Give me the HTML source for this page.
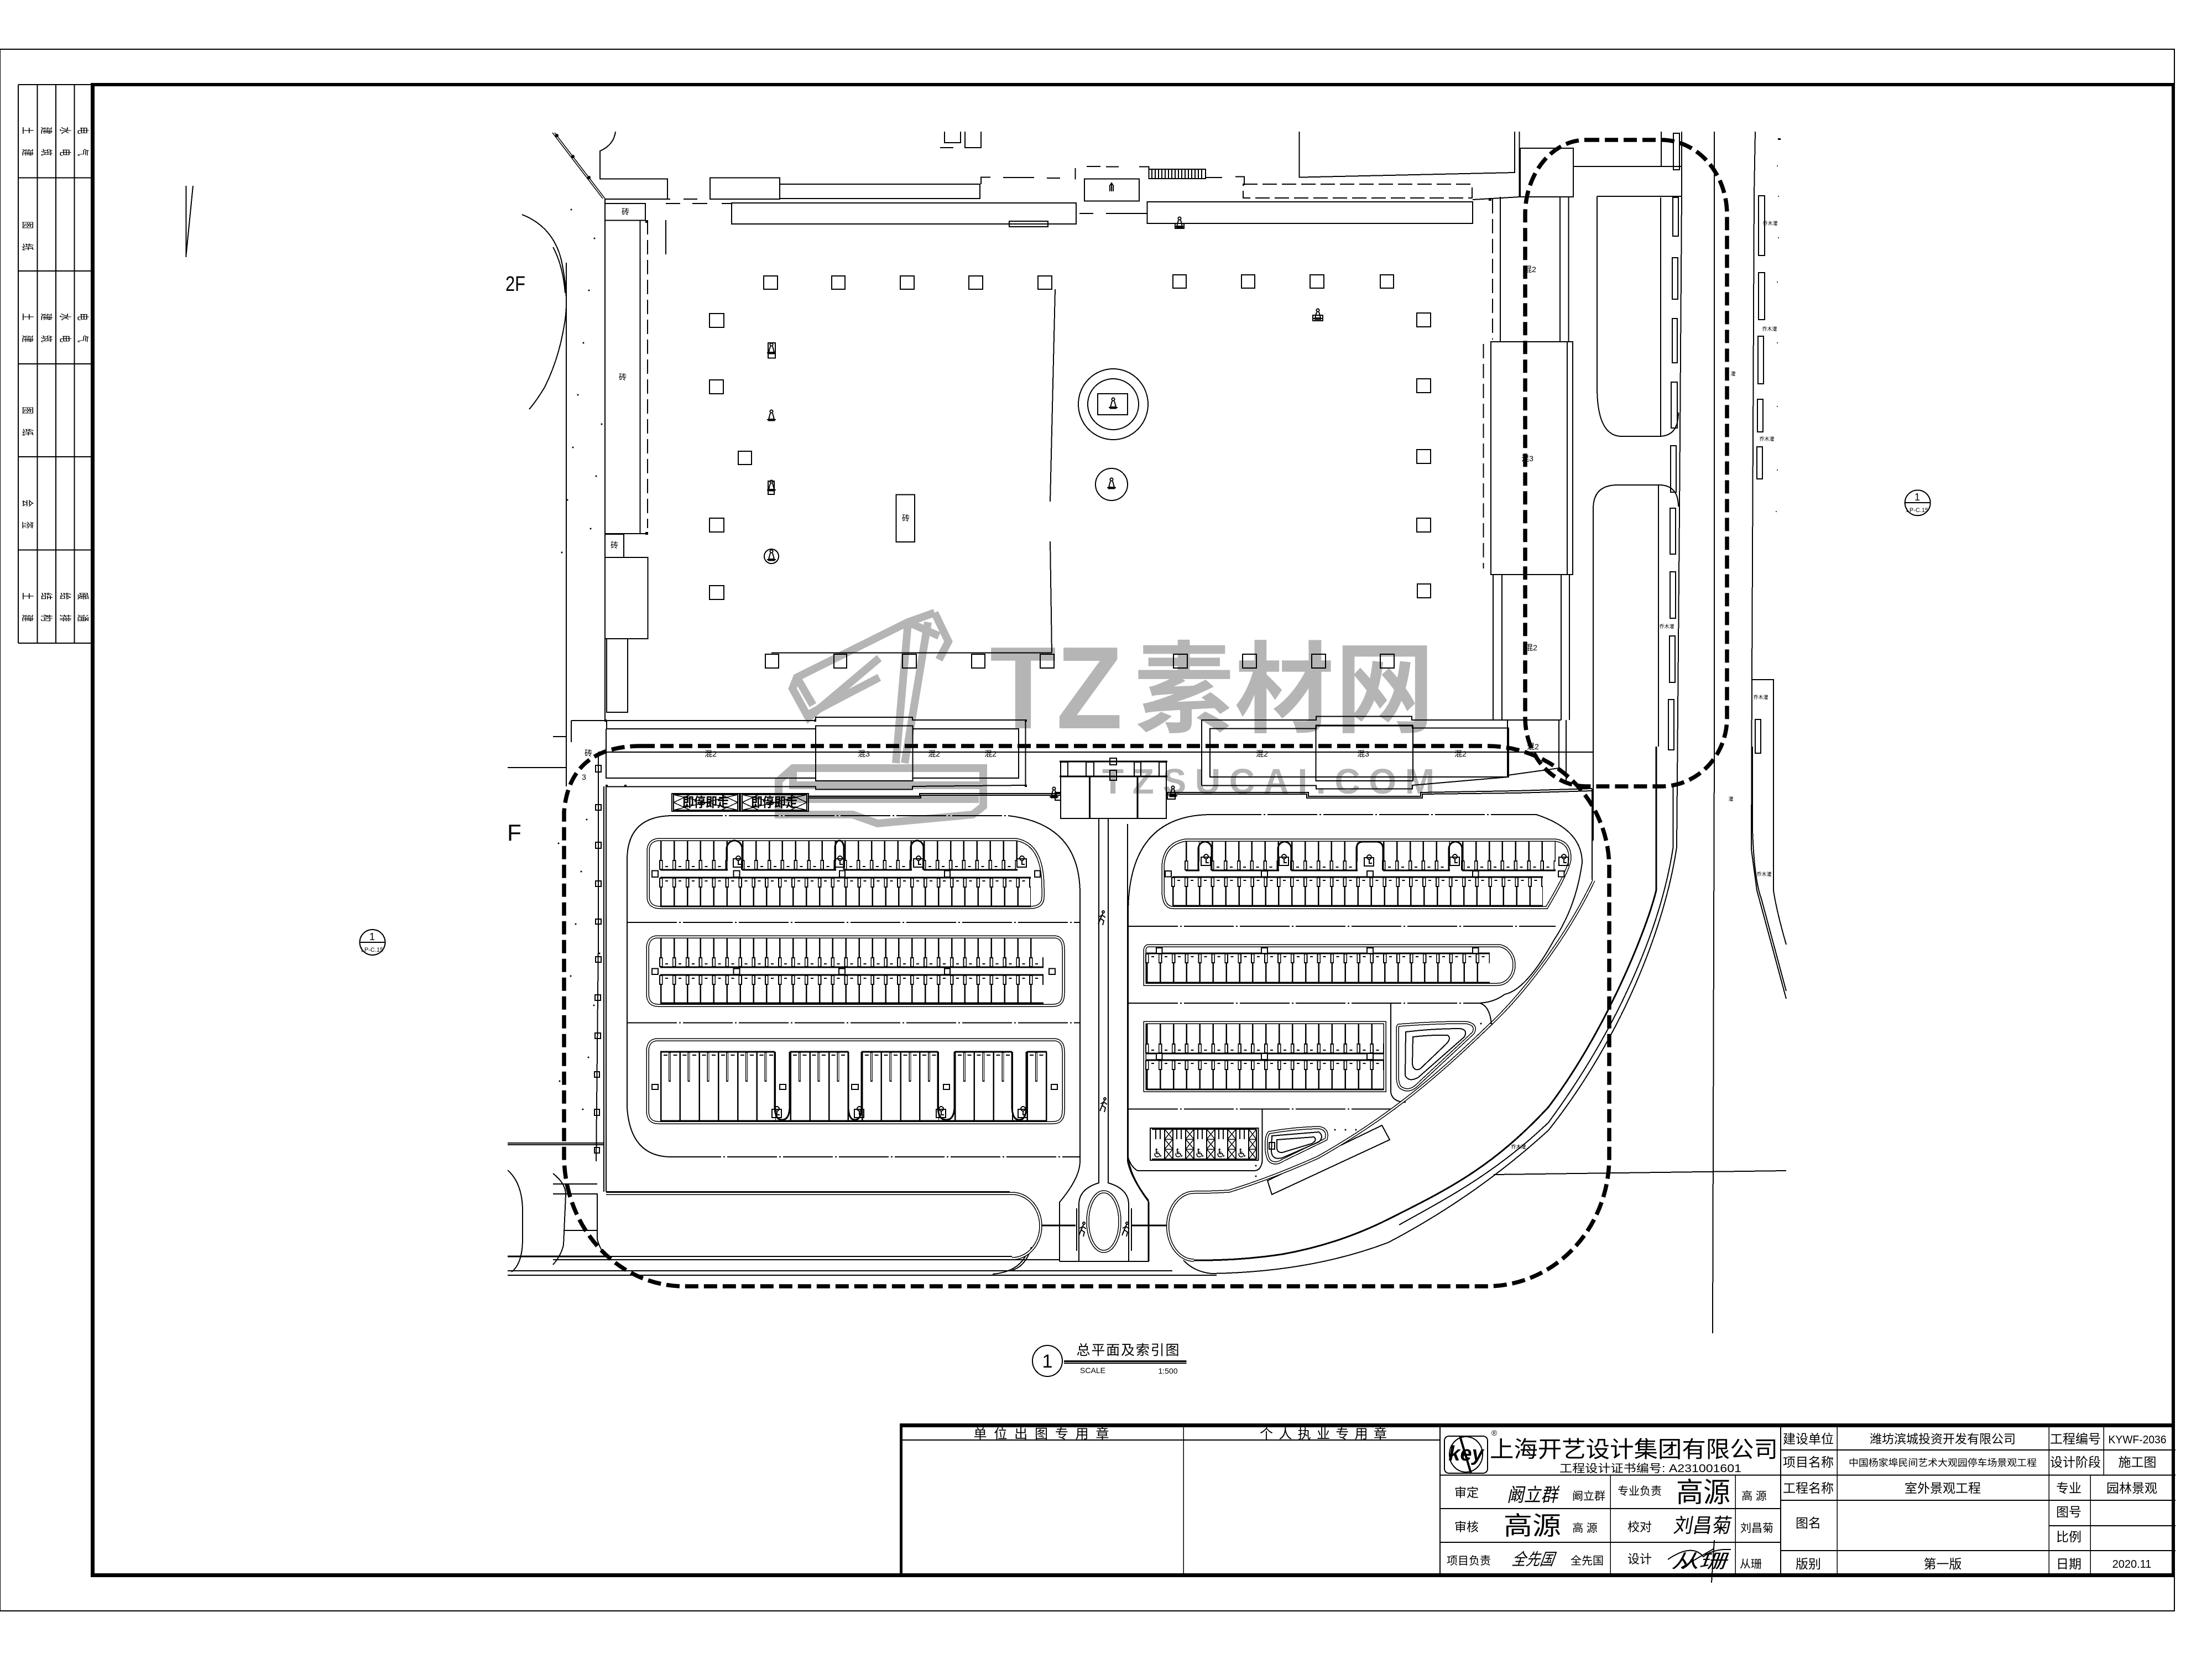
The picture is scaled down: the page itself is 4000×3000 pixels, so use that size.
<!DOCTYPE html>
<html><head><meta charset="utf-8"><style>
html,body{margin:0;padding:0;background:#fff}
svg{display:block}
.g{fill:none;stroke:#000;stroke-width:2;shape-rendering:crispEdges}
.th{stroke-width:3}.thin{stroke-width:1.5}
.dd{stroke-dasharray:90 4 3 4}
.ds{stroke-dasharray:26 14}
.d{stroke-width:35;stroke-dasharray:2.5 21.4}
.s{stroke-width:18;stroke-dasharray:6.5 17.4}
.w{stroke-width:14;stroke:#fff;stroke-dasharray:3 20.9}
.m{stroke-width:2;stroke-dasharray:5 18.9}
.t{font-family:"Liberation Sans","Noto Sans CJK SC",sans-serif;fill:#000;stroke:none;text-anchor:middle}
.l{font-size:14px}
.b{font-size:23px}
.r{font-size:22px}
.f{fill:#000;stroke:none}
</style></head><body>
<svg xmlns="http://www.w3.org/2000/svg" width="4000" height="3000" viewBox="0 0 4000 3000">
<defs>
<g id="fig"><circle cx="0" cy="-9" r="2.5"/><path d="M-2,-6 L-5,5 H5 L2,-6 M-8,6 H8"/><path d="M-6,7H6" stroke-width="3"/></g>
<g id="run"><circle cx="3" cy="-12" r="2"/><path d="M2,-9 L-2,0 L4,4 L2,12 M-2,0 L-6,10 M1,-6 L7,-2 M1,-6 L-5,-3"/></g>
<g id="c"><rect x="0" y="0" width="17" height="15"/><circle cx="9" cy="-1" r="4"/><path d="M9,3V10H14"/></g>
<g id="dbl">
<path d="M1194,1518H1836Q1886,1525 1886,1605V1622Q1886,1641 1862,1641H1194Q1172,1641 1172,1620V1540Q1172,1518 1194,1518Z"/>
<path d="M1190,1694H1905Q1923,1694 1923,1716V1796Q1923,1818 1905,1818H1190Q1171,1818 1171,1796V1716Q1171,1694 1190,1694Z"/>
<path d="M1190,1880H1905Q1923,1880 1923,1902V2008Q1923,2030 1905,2030H1190Q1171,2030 1171,2008V1902Q1171,1880 1190,1880Z"/>
<path d="M2145,1519H2811Q2839,1522 2839,1552Q2839,1570 2797,1641H2121Q2103,1641 2103,1609V1567Q2105,1525 2145,1519Z"/>
<path d="M2078,1710H2708A30,35 0 0 1 2708,1780H2070V1720Q2070,1710 2078,1710Z"/>
<rect x="2070" y="1849" width="434" height="123"/>
<path d="M1096,2158H1830A52,59 0 0 1 1830,2276"/>
<path d="M2882,1592C2840,1680 2770,1780 2701,1847C2620,1925 2530,2010 2383,2093Q2300,2130 2223,2154Q2190,2156 2159,2156A47,61 0 0 0 2159,2279"/>
<path d="M2529,1854Q2590,1849 2650,1849Q2672,1852 2664,1868L2565,1960Q2548,1978 2532,1966Q2527,1960 2527,1945V1865Q2527,1855 2529,1854Z"/>
<path d="M2295,2048Q2340,2040 2385,2039Q2403,2042 2398,2060L2320,2098Q2305,2108 2295,2098Q2288,2085 2290,2062Q2291,2052 2295,2048Z"/>
<ellipse cx="1996" cy="2209" rx="29" ry="54"/>
</g>
</defs>

<!-- watermark -->
<g fill="none" stroke="#b5b5b5" stroke-width="14" stroke-linejoin="miter">
<path d="M1690,1108L1642,1125L1441,1225L1433,1245L1462,1298L1590,1190"/>
<path d="M1690,1108L1715,1160L1698,1193"/>
<path d="M1642,1125L1620,1380M1678,1125L1636,1380M1642,1125L1698,1150"/>
<path d="M1460,1293L1590,1225M1441,1225L1470,1275"/>
<path d="M1408,1412V1473H1542L1587,1489L1759,1473L1778,1458V1389H1434L1408,1412Z"/>
<path d="M1434,1389V1420H1778M1410,1445H1770"/>
</g>
<text x="1790" y="1317" font-family="Liberation Sans,sans-serif" font-weight="bold" font-size="212" fill="#b5b5b5" textLength="240" lengthAdjust="spacingAndGlyphs">TZ</text>
<text x="2051" y="1310" font-family="Noto Sans CJK SC,sans-serif" font-weight="bold" font-size="180" fill="#b5b5b5" textLength="543" lengthAdjust="spacing">素材网</text>
<text x="1993" y="1435" font-family="Liberation Sans,sans-serif" font-weight="bold" font-size="64" fill="#b5b5b5" textLength="601" lengthAdjust="spacing">TZSUCAI.COM</text>

<g class="g">
<!-- outer frame -->
<path d="M0,89H3932V2913H0Z"/>
<!-- left table -->
<path d="M33,153H164M33,321.5H164M33,490H164M33,658H164M33,826H164M33,994.5H164M33,1163H164M33,153V1163M67.500,153V1163M101,153V1163M134.500,153V1163"/>
<!-- north arrow -->
<path d="M336.700,336V465M349,336L336.700,460"/>
<!-- index circles -->
<circle cx="3467.700" cy="909.300" r="23"/><path d="M3444,909H3491"/>
<circle cx="673.500" cy="1704" r="23"/><path d="M650,1704H697"/>

<!-- top area -->
<path class="thin" d="M1003,240L1094,359M999,240L1090,359"/>
<path d="M1113,238Q1110,262 1085,273V323.500H1207V360M1094,360H1212M1236,360H1261M1204,368H1230M1252,368H1279M1305,368H1323"/>
<rect x="1284" y="321.500" width="126" height="38.500"/>
<rect x="1410" y="333" width="362" height="26"/>
<rect x="1323" y="367" width="623" height="38"/>
<rect x="1825" y="400" width="70" height="10"/>
<rect x="1094" y="368" width="73" height="30.600"/>
<path d="M1094,359V1303M1157.500,398.600V965M1094,965H1167"/>
<path d="M1171,398V955" stroke-dasharray="26 10"/>
<path d="M1204,398V460"/>
<path d="M1024,475V1422M944,388Q1000,410 1015,470Q1030,540 1020,590Q1010,650 985,700Q970,725 957,740M1000,447Q1018,480 1022,530"/>
<rect x="1094" y="966" width="34" height="42"/>
<rect x="1094" y="1008" width="77.500" height="147"/>
<rect x="1097" y="1155" width="38" height="133"/>
<path d="M1128,966V1008"/>
<path d="M1774,333V320.500H1791M1814,321H1870M1893,322H1917M1944.500,304V324.600M1965,301H1990M1952,386H1977M1708,238V258H1737V238M1745,238V267H1774V238M1700,267H1724"/>
<rect x="1961" y="323.500" width="99" height="40"/>
<path d="M2010,332V346M2006,337L2010,331L2014,337M2007,346V337M2013,346V337"/>
<path d="M2000,301.500H2023M2060,301.500H2077.500V306"/>
<rect x="2077.500" y="306" width="102.500" height="17"/>
<path d="M2083,306V323M2089,306V323M2095,306V323M2101,306V323M2107,306V323M2113,306V323M2119,306V323M2125,306V323M2131,306V323M2137,306V323M2143,306V323M2149,306V323M2155,306V323M2161,306V323M2167,306V323M2173,306V323"/>
<path d="M2180,321H2210M2234,319.500H2250V335"/>
<rect x="2248" y="333" width="414" height="25" stroke-dasharray="26 9"/>
<rect x="2074.500" y="365" width="588.500" height="39"/>
<path d="M2000,386H2074"/>
<path d="M2349.500,238V320.600L2739,312V238M2747.500,238V356"/>
<rect x="2749" y="268" width="96" height="88"/>
<path d="M2663,361L2749,356H2845"/>
<path d="M2699,360V614" stroke-dasharray="26 10"/>
<path d="M2713,356V618M2821,356V618M2836.600,356V618"/>
<rect x="2696" y="618" width="138" height="421"/>
<path d="M2834,618H2844V1039H2834"/>
<path d="M2682.600,622V1028" stroke-dasharray="26 10"/>
<path d="M2716,1039V1302M2823,1039V1302M2838,1039V1302M2700,1039V1302M2716,1302H2823"/>
<path d="M3004,238V301M2846,301H3041M2888,355H3041"/>
<path d="M2888,355V700Q2888,789 2932.600,789H3000Q3035,789 3035,746"/>
<path d="M2881,1520V920Q2881,877 2925,877H3000Q3035,877 3035,916"/>
<path d="M3003,357V788M2999,877V1350"/>
<path d="M3041,238V355L3037,925L3032,1532C3010,1680 2930,1880 2800,2044C2700,2135 2600,2200 2510,2247Q2370,2300 2191,2303Q2160,2300 2140,2279"/>
<path d="M3025.600,1420V1532C3003,1680 2925,1860 2800,2030C2700,2125 2610,2170 2530,2215"/>
<path class="th" d="M2995,1350V1610C2975,1690 2900,1870 2800,2002C2700,2110 2620,2150 2510,2205Q2420,2250 2319,2268Q2240,2280 2159,2279"/>
<path d="M3100,238V1350L3097,2411M2701,2124L3230,2117"/>
<path d="M3174,238L3172,352L3168,1229L3167,1536L3177,1610L3230,1806M3169,1350V1500Q3172,1590 3185,1625L3230,1792"/>
<path d="M3207,1229V1379M3168,1229H3208"/>
<path d="M3207,1350V1610Q3212,1645 3230,1708"/>
<rect x="3026" y="241" width="11" height="66"/><rect x="3025" y="357" width="10" height="70"/><rect x="3024" y="466" width="10" height="75"/><rect x="3024" y="576" width="9" height="80"/><rect x="3022" y="691" width="11" height="83"/><rect x="3021" y="806" width="10" height="84"/><rect x="3020" y="919" width="10" height="83"/><rect x="3020" y="1034" width="10" height="84"/><rect x="3019" y="1150" width="10" height="84"/><rect x="3017" y="1265" width="10" height="91"/>
<rect x="3180" y="354" width="11" height="108"/><rect x="3180" y="493" width="11" height="85"/><rect x="3179" y="608" width="10" height="86"/><rect x="3178" y="722" width="10" height="59"/><rect x="3177" y="808" width="10" height="58"/><rect x="3174" y="1301" width="10" height="61"/>

<!-- plaza trees -->
<rect x="1381" y="499" width="25" height="24"/><rect x="1504" y="499" width="24" height="24"/><rect x="1628" y="499" width="25" height="24"/><rect x="1752" y="499" width="25" height="24"/><rect x="1877" y="499" width="25" height="24"/>
<rect x="2121" y="497" width="24" height="24"/><rect x="2245" y="497" width="24" height="24"/><rect x="2369" y="497" width="25" height="24"/><rect x="2496" y="497" width="24" height="24"/>
<rect x="2562" y="566" width="25" height="25"/><rect x="2562" y="685" width="25" height="25"/><rect x="2562" y="813" width="25" height="25"/><rect x="2562" y="937" width="25" height="25"/><rect x="2563" y="1056" width="24" height="25"/>
<rect x="1283" y="567" width="26" height="25"/><rect x="1283" y="687" width="25" height="25"/><rect x="1335" y="816" width="24" height="24"/><rect x="1283" y="937" width="26" height="25"/><rect x="1283" y="1059" width="26" height="25"/>
<rect x="1384" y="1183" width="24" height="25"/><rect x="1508" y="1183" width="23" height="25"/><rect x="1632" y="1183" width="25" height="25"/><rect x="1757" y="1183" width="24" height="25"/><rect x="1881" y="1183" width="25" height="25"/><rect x="2122" y="1183" width="25" height="25"/><rect x="2247" y="1183" width="25" height="25"/><rect x="2372" y="1183" width="25" height="25"/><rect x="2496" y="1183" width="25" height="25"/>
<path d="M1908,523L1899,907M1899,979L1902,1180M1395,1180.700H1902"/>
<rect x="1389" y="620" width="13" height="27.500"/><rect x="1389" y="870" width="11" height="24"/><circle cx="1395" cy="1006" r="13"/><rect x="1620.500" y="894.500" width="33.500" height="85.500"/>
<use href="#fig" x="1395" y="632"/><use href="#fig" x="1395" y="753"/><use href="#fig" x="1395" y="880"/><use href="#fig" x="1395" y="1006"/>
<rect x="2374" y="570" width="18" height="10"/><use href="#fig" x="2383" y="570"/>
<rect x="2125" y="404" width="16" height="9"/><use href="#fig" x="2133" y="404"/>
<ellipse cx="2013" cy="731" rx="63" ry="64"/><ellipse cx="2013" cy="731" rx="46" ry="46"/>
<rect x="1985" y="712" width="54" height="38"/><use href="#fig" x="2013" y="731"/>
<circle cx="2010" cy="876" r="29"/><use href="#fig" x="2010" y="876"/>

<!-- lower band -->
<path d="M1033,1303H1475V1297H1650V1302H1854.600V1420"/>
<path d="M1096,1318H1475M1650,1318H1842V1407H1650M1475,1407H1096V1318"/>
<rect x="1475" y="1312.600" width="175.500" height="99.400"/>
<path d="M1096,1422.400H1475V1427.500H1650V1422L1854,1420"/>
<path d="M1082,1360H2881"/>
<path d="M1462,1440H1663V1435H1917M1462,1443H1665V1438H1917M2111,1433H2366V1440H2569V1433L2743,1430L2879,1426M2111,1436H2363V1443H2572V1436L2743,1434L2879,1430"/>
<path d="M1033,1303V1342M1097,1303V1318"/>
<path d="M1082,1360V1700L1078,2100M1092,1422V2155M1096,1422V2155M1096,2155H1826M1024,1422V1332"/>
<path d="M1000,1332H1024M918,1388H1024M918,2067H1092M918,2070H1092M918,2116Q945,2140 945,2190V2240Q945,2285 925,2300M1000,2141H1080M1000,2159H1080M1019,2225H1080M1080,2158V2241Q1085,2260 1096,2271"/>
<path class="th" d="M918,2272H1096"/>
<path d="M1000,2122Q1023,2140 1023,2160L1019,2251Q1015,2270 1000,2287"/>
<path d="M918,2298H2120M918,2306H2200M1096,2272H1830M1000,2278H1916M1916,2281H2077M1830,2297Q1855,2290 1865,2255M1795,2304Q1840,2300 1855,2270"/>
<!-- right band -->
<path d="M2173,1420.700V1302H2380V1295.600H2553V1302H2626L2726,1302"/>
<path d="M2173,1420.700H2380V1426.700H2554V1420L2727,1405"/>
<path d="M2188,1406V1317.600H2380V1311.700H2554V1316.700H2728V1405H2188"/>
<rect x="2379.500" y="1312.600" width="175.500" height="99.400"/>
<path d="M2726,1302V1405.600M2728.600,1401.600L2819,1389V1302M2832,1302V1415"/>
<path d="M2879,1426V1591"/>
<path d="M2600,1302H2699"/>
<!-- pavilion -->
<rect x="1918" y="1404" width="191" height="76"/>
<path class="th" d="M1916,1377H2111M1916,1404H2111M1970.500,1404V1480M2057,1404V1480"/>
<rect x="1918" y="1378" width="13" height="26"/><rect x="1964" y="1378" width="14" height="26"/><rect x="2051" y="1378" width="12" height="26"/><rect x="2096" y="1378" width="13" height="26"/>
<rect x="2007" y="1371" width="12" height="12"/><rect x="2007" y="1393" width="12" height="18"/>
<path d="M1987,1480V2139Q1951,2150 1951,2178V2280M2004,1480V2139Q2041,2150 2041,2178V2280"/>
<rect x="1908" y="1433" width="10" height="14"/><use href="#fig" x="1906" y="1435"/>
<rect x="2111" y="1433" width="14" height="12"/><use href="#fig" x="2121" y="1433"/>
<!-- big outlines -->
<path class="dd" d="M1217,1475H1823"/>
<path d="M1134,1555Q1134,1475 1217,1475M1823,1475Q1953,1490 1953,1616V2100Q1953,2130 1916,2174V2281M1134,1555V2003Q1140,2092 1214,2092"/>
<path class="dd" d="M1214,2092H1953M1134,1668H1953.500M1134,1849.500H1953.500M2040,1675H2813M2040,1814H2670M2040,2005.700H2523"/>
<path d="M2040,1651Q2040,1473 2191,1473"/>
<path class="dd" d="M2191,1473H2778"/>
<path d="M2778,1473Q2861,1500 2861,1560Q2850,1640 2810,1700Q2760,1790 2721,1798Q2700,1814 2670,1814M2676,1814Q2695,1820 2697,1854"/>
<path d="M2040,1651V2093Q2045,2130 2076.500,2170V2282M2282.500,2005.700V2100Q2280,2117 2268,2117H2057Q2045,2110 2040,2093M2515,1814V1975Q2518,1993 2542,1993"/>
<path d="M2292,2135L2300,2160L2513,2061L2499,2035Z"/>
<path d="M1884,2216H1945M2046,2216H2111" stroke-width="3"/>
<path d="M1947,2185V2262M2046,2185V2262"/>
<path d="M2039,1490V2100Q2045,2130 2077.500,2174V2281"/>
<!-- double lines -->
<use href="#dbl" stroke="#000" stroke-width="5.500"/>
<use href="#dbl" stroke="#fff" stroke-width="2.500"/>
<path d="M2555,1875Q2590,1871 2618,1872Q2625,1878 2615,1888L2568,1933Q2556,1938 2554,1924Z"/>
<path d="M2542,1866Q2590,1860 2640,1860Q2655,1862 2648,1875L2565,1948Q2548,1958 2541,1945Z"/>
<path d="M2309,2061L2376,2056Q2383,2062 2372,2068L2319,2084Q2309,2085 2309,2075Z"/>
<path d="M2300,2054L2385,2047Q2395,2055 2385,2065L2318,2094Q2300,2098 2299,2082Z"/>
<rect x="2295" y="2066" width="10" height="12"/>

<!-- stall dividers -->
<path class="d" d="M1194,1537.500H1316M1342,1537.500H1512M1527,1537.500H1649M1670,1537.500H1840M1194,1713.500H1887M2144,1538.500H2169M2191,1538.500H2313M2335,1538.500H2455M2501,1538.500H2622M2644,1538.500H2813M2073,1869.500H2502M1194,1622.500H1864M1194,1798.500H1887M2120,1621.500H2790M2073,1759.500H2694M2073,1952.500H2502"/>
<path class="s" d="M1192,1564H1316M1340,1564H1512M1525,1564H1649M1668,1564H1840M1192,1740H1887M2142,1565H2169M2189,1565H2313M2333,1565H2455M2499,1565H2622M2642,1565H2813M2071,1896H2502M1192,1596H1864M1192,1772H1887M2118,1595H2790M2071,1733H2694M2071,1926H2502"/>
<path class="w" d="M1193.800,1564H1316M1341.800,1564H1512M1526.800,1564H1649M1669.800,1564H1840M1193.800,1740H1887M2143.800,1565H2169M2190.800,1565H2313M2334.800,1565H2455M2500.800,1565H2622M2643.800,1565H2813M2072.800,1896H2502M1193.800,1596H1864M1193.800,1772H1887M2119.800,1595H2790M2072.800,1733H2694M2072.800,1926H2502"/>
<path class="m" d="M1203,1567H1314M1351,1567H1510M1536,1567H1647M1679,1567H1838M1203,1743H1885M2200,1568H2311M2344,1568H2453M2510,1568H2620M2653,1568H2811M2082,1899H2500M1203,1593H1862M1203,1769H1885M2129,1592H2788M2082,1730H2692M2082,1923H2500"/>
<path class="th" d="M1194,1573H1316M1342,1573H1512M1527,1573H1649M1670,1573H1840M1194,1587H1864M1194,1749H1887M1194,1763H1887M2144,1574H2169M2191,1574H2313M2335,1574H2455M2501,1574H2622M2644,1574H2813M2120,1586H2790M2073,1724H2694M2073,1905H2502M2073,1917H2502M1194,1639H1864M1194,1814H1887M2120,1638H2790M2073,1777H2694M2073,1970H2502"/>
<!-- notches -->
<path class="th" d="M1314,1573V1535A14,15 0 0 1 1342,1535V1573M1510,1573V1533A8,13 0 0 1 1526,1533V1573M1647,1573V1533A11.500,13 0 0 1 1670,1533V1573M2167,1574V1535A12,13 0 0 1 2191,1535V1574M2311,1574V1535A12,13 0 0 1 2335,1535V1574M2453,1574V1535Q2453,1522 2465,1522H2488Q2501,1522 2501,1535V1574M2620,1574V1535A12,13 0 0 1 2644,1535V1574"/>
<!-- L3 stalls -->
<path stroke-width="125" stroke-dasharray="2.500 32.200" d="M1194,1964.500H1403M1428.600,1964.500H1536M1558,1964.500H1698M1726,1964.500H1832M1856.500,1964.500H1895"/>
<path stroke-width="54" stroke-dasharray="4 30.700" d="M1209,1929H1401M1444,1929H1534M1574,1929H1696M1742,1929H1830M1872,1929H1893"/>
<path stroke-width="50" stroke="#fff" stroke-dasharray="1.500 33.200" d="M1210.500,1929H1401M1445.500,1929H1534M1575.500,1929H1696M1743.500,1929H1830M1873.500,1929H1893"/>
<path stroke-dasharray="7 10.350" d="M1200,1908H1400M1434,1908H1533M1564,1908H1695M1732,1908H1829M1862,1908H1892"/>
<path class="th" d="M1194,1902H1401M1428.600,1902H1534.400M1558,1902H1696.400M1726,1902H1830M1856.500,1902H1893M1194,2027H1893"/>
<path class="th" d="M1401,1902V2000Q1401,2025 1414,2025Q1428,2025 1428,2000V1902M1534,1902V2000Q1534,2025 1546,2025Q1558,2025 1558,2000V1902M1696,1902V2000Q1696,2025 1711,2025Q1726,2025 1726,2000V1902M1830,1902V2000Q1830,2025 1843,2025Q1856,2025 1856,2000V1902"/>
<!-- squares -->
<g fill="#fff">
<rect x="1179" y="1574.500" width="11" height="11.500"/><rect x="1326.500" y="1574.500" width="11" height="11.500"/><rect x="1518" y="1574.500" width="10" height="11.500"/><rect x="1708" y="1574.500" width="10" height="11.500"/><rect x="1871" y="1574.500" width="10" height="11.500"/>
<rect x="1179" y="1751.500" width="11" height="10.500"/><rect x="1326.500" y="1751.500" width="11" height="10.500"/><rect x="1517" y="1751.500" width="11" height="10.500"/><rect x="1708" y="1751.500" width="10" height="10.500"/><rect x="1897" y="1751.500" width="11" height="10.500"/>
<rect x="1179" y="1961" width="11" height="9"/><rect x="1410" y="1961" width="11" height="9"/><rect x="1540" y="1961" width="12" height="9"/><rect x="1706" y="1961" width="11" height="9"/><rect x="1901" y="1961" width="11" height="9"/>
<rect x="2107" y="1575" width="11" height="10.500"/><rect x="2281" y="1575" width="11" height="10.500"/><rect x="2472" y="1575" width="11" height="10.500"/><rect x="2663" y="1575" width="10.500" height="10.500"/><rect x="2818" y="1575" width="10.500" height="10.500"/>
<rect x="2091" y="1714" width="10.500" height="10"/><rect x="2281" y="1714" width="11" height="10"/><rect x="2472" y="1714" width="11" height="10"/><rect x="2663" y="1714" width="10.500" height="10"/>
<rect x="2091" y="1905" width="10.500" height="11"/><rect x="2281" y="1905" width="11" height="11"/><rect x="2472" y="1905" width="11" height="11"/>
</g>
<!-- lamps -->
<use href="#c" x="1326" y="1553"/><use href="#c" x="1510" y="1553"/><use href="#c" x="1652" y="1553"/><use href="#c" x="1839" y="1553"/>
<use href="#c" x="1396" y="2006"/><use href="#c" x="1545" y="2006"/><use href="#c" x="1693" y="2006"/><use href="#c" x="1841" y="2006"/>
<use href="#c" x="2172" y="1550"/><use href="#c" x="2313" y="1550"/><use href="#c" x="2467" y="1551"/><use href="#c" x="2622" y="1550"/><use href="#c" x="2819" y="1550"/>
<!-- flower boxes -->
<rect x="1215" y="1435" width="122" height="32"/><rect x="1339" y="1435" width="123" height="32"/>
<rect x="1218" y="1437" width="116" height="28"/><rect x="1342" y="1437" width="117" height="28"/>
<path class="thin" d="M1218,1437L1334,1465M1334,1437L1218,1465M1342,1437L1459,1465M1459,1437L1342,1465M1248,1437L1218,1451M1304,1437L1334,1451M1248,1465L1218,1451M1304,1465L1334,1451M1372,1437L1342,1451M1429,1437L1459,1451M1372,1465L1342,1451M1429,1465L1459,1451"/>
<!-- disabled parking -->
<rect x="2080" y="2040" width="195.500" height="58"/>
<path d="M2106,2042V2096M2121,2042V2096M2144,2042V2096M2159,2042V2096M2182,2042V2096M2197,2042V2096M2220,2042V2096M2235,2042V2096M2258,2042V2096M2272,2042V2096M2083,2042H2272M2083,2096H2272"/>
<path class="thin" d="M2106,2042L2121,2060L2106,2078L2121,2096M2121,2042L2106,2060L2121,2078L2106,2096M2106,2060H2121M2106,2078H2121M2144,2042L2159,2060L2144,2078L2159,2096M2159,2042L2144,2060L2159,2078L2144,2096M2144,2060H2159M2144,2078H2159M2182,2042L2197,2060L2182,2078L2197,2096M2197,2042L2182,2060L2197,2078L2182,2096M2182,2060H2197M2182,2078H2197M2220,2042L2235,2060L2220,2078L2235,2096M2235,2042L2220,2060L2235,2078L2220,2096M2220,2060H2235M2220,2078H2235M2258,2042L2272,2060L2258,2078L2272,2096M2272,2042L2258,2060L2272,2078L2258,2096M2258,2060H2272M2258,2078H2272"/>
<path d="M2090,2042V2060M2098,2042V2060M2128,2042V2060M2136,2042V2060M2166,2042V2060M2174,2042V2060M2204,2042V2060M2212,2042V2060M2242,2042V2060M2250,2042V2060"/>
<!-- left column trees -->
<rect x="1077" y="1384" width="10" height="12"/><rect x="1077" y="1455" width="10" height="10"/><rect x="1077" y="1523" width="10" height="11"/><rect x="1077" y="1593" width="10" height="10"/><rect x="1077" y="1662" width="10" height="9"/><rect x="1077" y="1730" width="10" height="10"/><rect x="1076" y="1799" width="10" height="10"/><rect x="1076" y="1868" width="10" height="10"/><rect x="1075" y="1938" width="9" height="10"/><rect x="1075" y="2006" width="9" height="11"/><rect x="1075" y="2075" width="9" height="10"/>
<!-- runners -->
<use href="#run" x="1992" y="1661"/><use href="#run" x="1995" y="1999"/><use href="#run" x="1957" y="2224"/><use href="#run" x="2035" y="2224"/>
<!-- title block -->
<path class="thin" d="M2140,2581V2845M2912,2668V2845M3138,2668V2845M3322,2581V2845M3705,2581V2845M3804,2581V2668M3780,2668V2845"/>
<path d="M2604,2581V2845M3220,2581V2845"/>
<path d="M1627,2604H2604M2604,2667.700H3934M3220,2622H3934M3220,2713H3934M2604,2728H3220M2604,2789H3220M3705,2759H3934M3220,2804H3934"/>
<rect x="2612" y="2597" width="78" height="67" rx="8"/>
<ellipse cx="2651" cy="2630" rx="30" ry="32"/>
<path stroke-width="4" d="M2640,2597L2660,2664"/>
<path d="M3016,2820Q3060,2790 3080,2815Q3100,2800 3130,2802M3100,2785L3095,2862M3040,2835L3100,2800"/>
<path d="M1924,2461.400H2145.600" stroke-width="3"/><path d="M1924,2465H2145.600"/>
<ellipse cx="1894" cy="2461" rx="27" ry="28"/>
</g>
<!-- frames -->
<g class="f">
<rect x="164" y="150" width="3769" height="6"/>
<rect x="164" y="150" width="7" height="2702"/>
<rect x="3927" y="150" width="6" height="2702"/>
<rect x="164" y="2845" width="3769" height="7"/>
<rect x="1627" y="2574" width="2306" height="7"/>
<rect x="1627" y="2574" width="5" height="275"/>
<!-- black corner marks -->
<rect x="1093" y="1301" width="4" height="4"/><rect x="1472" y="1301" width="4" height="4"/><rect x="1853" y="1301" width="4" height="4"/><rect x="1095" y="1419" width="4" height="4"/><rect x="1129" y="1419" width="4" height="4"/><rect x="1853" y="1419" width="4" height="4"/><rect x="1167" y="398" width="5" height="5"/><rect x="1167" y="962" width="5" height="5"/><rect x="3215" y="250" width="5" height="3"/><rect x="2692" y="358" width="5" height="5"/>
<circle cx="1007" cy="245" r="3"/><circle cx="1036" cy="283" r="3"/><circle cx="1065" cy="321" r="3"/>
<!-- dots -->
<circle cx="1033" cy="379" r="1.500"/><circle cx="1075" cy="431" r="1.500"/><circle cx="1065" cy="525" r="1.500"/><circle cx="1055" cy="620" r="1.500"/><circle cx="1045" cy="714" r="1.500"/><circle cx="1088" cy="767" r="1.500"/><circle cx="1036" cy="809" r="1.500"/><circle cx="1078" cy="861" r="1.500"/><circle cx="1026" cy="904" r="1.500"/><circle cx="1068" cy="956" r="1.500"/><circle cx="1016" cy="999" r="1.500"/>
<circle cx="1010" cy="1525" r="1.500"/><circle cx="1061" cy="1482" r="1.500"/><circle cx="1051" cy="1576" r="1.500"/><circle cx="1041" cy="1671" r="1.500"/><circle cx="1084" cy="1724" r="1.500"/><circle cx="1032" cy="1765" r="1.500"/><circle cx="1074" cy="1818" r="1.500"/><circle cx="1064" cy="1912" r="1.500"/><circle cx="1012" cy="1955" r="1.500"/><circle cx="1054" cy="2006" r="1.500"/>
<circle cx="2414" cy="2043" r="1.500"/><circle cx="2433" cy="2043" r="1.500"/><circle cx="2452" cy="2043" r="1.500"/><circle cx="2678" cy="1851" r="1.500"/><circle cx="2697" cy="1851" r="1.500"/><circle cx="2271" cy="2108" r="1.500"/><circle cx="2271" cy="2127" r="1.500"/>
<circle cx="3214" cy="300" r="1"/><circle cx="3216" cy="355" r="1"/><circle cx="3216" cy="430" r="1"/><circle cx="3214" cy="510" r="1"/><circle cx="3214" cy="620" r="1"/><circle cx="3214" cy="735" r="1"/><circle cx="3214" cy="850" r="1"/><circle cx="3212" cy="925" r="1"/>
</g>
<!-- boundary dashed -->
<g fill="none" stroke="#000" stroke-width="7.500" stroke-dasharray="24 10">
<path d="M1160,1349H2689A221,220 0 0 1 2910,1569V2093A221,233 0 0 1 2689,2326H1237A217,236 0 0 1 1020,2090V1468Q1030,1349 1160,1349Z"/>
<path d="M2868,253H3004A119,135 0 0 1 3123,388V1298A119,124 0 0 1 3004,1422H2868A110,124 0 0 1 2758,1298V388A110,135 0 0 1 2868,253Z"/>
</g>

<!-- texts -->
<g class="t">
<text x="932" y="526" font-size="38" textLength="36" lengthAdjust="spacingAndGlyphs">2F</text>
<text x="930" y="1520" font-size="42">F</text>
<g class="l">
<text x="1131" y="388">砖</text><text x="1126" y="687">砖</text><text x="1111" y="991">砖</text><text x="1638" y="942">砖</text>
<text x="1064" y="1367">砖</text><text x="1056" y="1410">3</text>
<text x="1285" y="1368">混2</text><text x="1562" y="1368">混3</text><text x="1689" y="1368">混2</text><text x="1791" y="1368">混2</text>
<text x="2282" y="1368">混2</text><text x="2465" y="1368">混3</text><text x="2641" y="1368">混2</text><text x="2772" y="1355">混2</text>
<text x="2767" y="492">混2</text><text x="2762" y="834">混3</text><text x="2769" y="1176">混2</text>
</g>
<g font-size="9">
<text x="3201" y="407">乔木灌</text><text x="3200" y="598">乔木灌</text><text x="3195" y="797">乔木灌</text><text x="3184" y="1264">乔木灌</text><text x="3014" y="1136">乔木灌</text><text x="3134" y="679">灌</text><text x="3130" y="1448">灌</text><text x="2746" y="2077">乔木灌</text><text x="3190" y="1584">乔木灌</text>
</g>
<!-- index -->
<text x="3467" y="905" font-size="18">1</text><text x="3467" y="926" font-size="11">LP-C.15</text>
<text x="673" y="1700" font-size="18">1</text><text x="673" y="1721" font-size="11">LP-C.15</text>
<!-- flower box text -->
<text x="1276" y="1459" font-size="24" font-weight="bold" textLength="84" lengthAdjust="spacingAndGlyphs">即停即走</text>
<text x="1400" y="1459" font-size="24" font-weight="bold" textLength="84" lengthAdjust="spacingAndGlyphs">即停即走</text>
<!-- wheelchairs -->
<g font-family="DejaVu Sans,sans-serif" font-size="22">
<text x="2094" y="2093">♿</text><text x="2132" y="2093">♿</text><text x="2170" y="2093">♿</text><text x="2208" y="2093">♿</text><text x="2246" y="2093">♿</text>
</g>
<!-- drawing title -->
<text x="2039.500" y="2450" font-size="25" textLength="186" lengthAdjust="spacing">总平面及索引图</text>
<text x="1894" y="2473" font-size="34" font-family="Liberation Sans,sans-serif">1</text>
<text x="1976" y="2483" font-size="14" font-family="Liberation Sans,sans-serif">SCALE</text>
<text x="2112" y="2484" font-size="14" font-family="Liberation Sans,sans-serif">1:500</text>
<!-- title block -->
<text x="1883" y="2601" font-size="24" textLength="245" lengthAdjust="spacing">单位出图专用章</text>
<text x="2393" y="2601" font-size="24" textLength="230" lengthAdjust="spacing">个人执业专用章</text>
<text x="2651" y="2641" font-size="38" font-weight="bold" font-style="italic" font-family="Liberation Sans,sans-serif">key</text>
<text x="2702" y="2596" font-size="14">®</text>
<text x="2954.500" y="2635" font-size="41" textLength="521" lengthAdjust="spacingAndGlyphs">上海开艺设计集团有限公司</text>
<text x="2984.500" y="2662" font-size="20" textLength="329" lengthAdjust="spacingAndGlyphs">工程设计证书编号: A231001601</text>
<g class="b">
<text x="2652" y="2707" font-size="22">审定</text><text x="2873" y="2712" font-size="20">阚立群</text><text x="2965" y="2703" font-size="20">专业负责</text><text x="3172" y="2712" font-size="20">高 源</text>
<text x="2652" y="2769" font-size="22">审核</text><text x="2866" y="2770" font-size="20">高 源</text><text x="2965" y="2769" font-size="22">校对</text><text x="3177" y="2770" font-size="20">刘昌菊</text>
<text x="2656" y="2829" font-size="20">项目负责</text><text x="2870" y="2829" font-size="20">全先国</text><text x="2965" y="2827" font-size="22">设计</text><text x="3166" y="2835" font-size="20">从珊</text>
<text x="3270" y="2610">建设单位</text><text x="3513" y="2610" font-size="22">潍坊滨城投资开发有限公司</text><text x="3753" y="2610">工程编号</text><text x="3865" y="2610" font-size="20" textLength="105" lengthAdjust="spacingAndGlyphs">KYWF-2036</text>
<text x="3270" y="2652">项目名称</text><text x="3513" y="2651" font-size="17" textLength="340" lengthAdjust="spacingAndGlyphs">中国杨家埠民间艺术大观园停车场景观工程</text><text x="3753" y="2652">设计阶段</text><text x="3865" y="2652">施工图</text>
<text x="3270" y="2699">工程名称</text><text x="3513" y="2699">室外景观工程</text><text x="3741" y="2699">专业</text><text x="3855" y="2699">园林景观</text>
<text x="3270" y="2762">图名</text><text x="3741" y="2742">图号</text><text x="3741" y="2787">比例</text>
<text x="3270" y="2836">版别</text><text x="3513" y="2836">第一版</text><text x="3741" y="2836">日期</text><text x="3855" y="2835" font-size="20">2020.11</text>
</g>
<!-- signatures -->
<text transform="translate(2771,2715) skewX(-12)" font-size="34" textLength="92" lengthAdjust="spacingAndGlyphs">阚立群</text>
<text x="3080" y="2716" font-size="50" textLength="98" lengthAdjust="spacingAndGlyphs">高源</text>
<text x="2771" y="2775" font-size="46" textLength="104" lengthAdjust="spacingAndGlyphs">高源</text>
<text transform="translate(3077,2771) skewX(-10)" font-size="36" textLength="104" lengthAdjust="spacingAndGlyphs">刘昌菊</text>
<text transform="translate(2771,2830) skewX(-20)" font-size="30" textLength="76" lengthAdjust="spacingAndGlyphs">全先国</text>
<text transform="translate(3072,2835) skewX(-20)" font-size="34" textLength="100" lengthAdjust="spacingAndGlyphs">从珊</text>
</g>
<!-- left table text -->
<g class="t r" letter-spacing="44">
<text transform="translate(50,269) rotate(90) scale(.6,1)" dy=".36em">土建</text>
<text transform="translate(84,269) rotate(90) scale(.6,1)" dy=".36em">建筑</text>
<text transform="translate(118,269) rotate(90) scale(.6,1)" dy=".36em">水电</text>
<text transform="translate(150,269) rotate(90) scale(.6,1)" dy=".36em">电气</text>
<text transform="translate(50,440) rotate(90) scale(.6,1)" dy=".36em">图纸</text>
<text transform="translate(50,606) rotate(90) scale(.6,1)" dy=".36em">土建</text>
<text transform="translate(84,606) rotate(90) scale(.6,1)" dy=".36em">建筑</text>
<text transform="translate(118,606) rotate(90) scale(.6,1)" dy=".36em">水电</text>
<text transform="translate(150,606) rotate(90) scale(.6,1)" dy=".36em">电气</text>
<text transform="translate(50,775) rotate(90) scale(.6,1)" dy=".36em">图纸</text>
<text transform="translate(50,943) rotate(90) scale(.6,1)" dy=".36em">会签</text>
<text transform="translate(50,1111) rotate(90) scale(.6,1)" dy=".36em">土建</text>
<text transform="translate(84,1111) rotate(90) scale(.6,1)" dy=".36em">结构</text>
<text transform="translate(118,1111) rotate(90) scale(.6,1)" dy=".36em">给排</text>
<text transform="translate(150,1111) rotate(90) scale(.6,1)" dy=".36em">暖通</text>
</g>
<rect x="164" y="150" width="7" height="1100" fill="#000"/>
</svg>
</body></html>
